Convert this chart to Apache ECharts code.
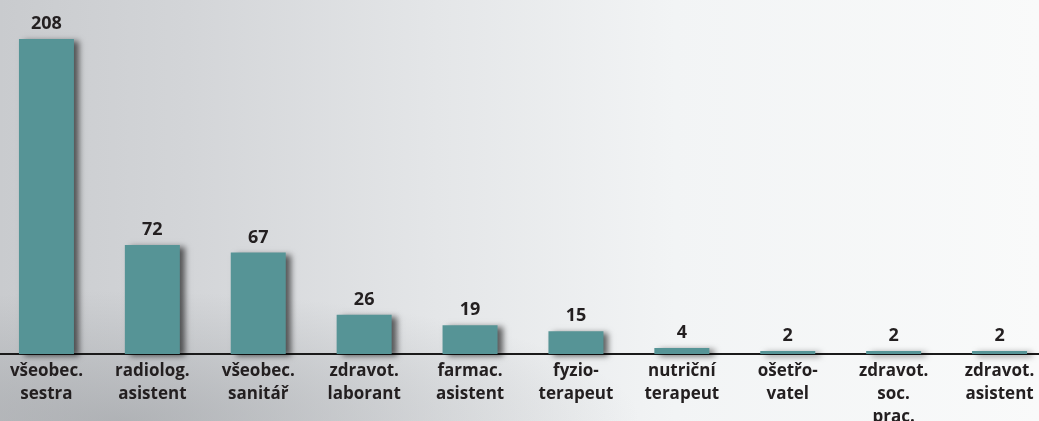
<!DOCTYPE html>
<html>
<head>
<meta charset="utf-8">
<script src="https://cdn.jsdelivr.net/npm/echarts@6/dist/echarts.min.js"></script>
<style>
  html, body { margin: 0; padding: 0; }
  body {
    width: 1039px; height: 421px; overflow: hidden;
    background:
      radial-gradient(ellipse 520px 130px at 120px 421px, rgba(150,153,157,0.55), rgba(150,153,157,0) 100%),
      linear-gradient(90deg, #c9cbce 0%, #d3d5d8 18%, #e4e6e8 42%, #f2f4f5 65%, #f9fafa 100%);
  }
  #main { width: 1039px; height: 421px; }
</style>
</head>
<body>
<div id="main"></div>
<script>
// profese a pocty
var kategorie = [
  'všeobec.\nsestra', 'radiolog.\nasistent', 'všeobec.\nsanitář', 'zdravot.\nlaborant',
  'farmac.\nasistent', 'fyzio-\nterapeut', 'nutriční\nterapeut', 'ošetřo-\nvatel',
  'zdravot.\nsoc.\nprac.', 'zdravot.\nasistent'
];
var pocty = [208, 72, 67, 26, 19, 15, 4, 2, 2, 2];

var chart = echarts.init(document.getElementById('main'));
var option = {
  backgroundColor: 'transparent',
  animation: false,
  grid: { left: -6.5, right: -13.5, top: 39, bottom: 67, containLabel: false, outerBoundsMode: 'none' },
  xAxis: {
    type: 'category',
    data: kategorie,
    axisLine: { lineStyle: { color: '#1a1a1a', width: 2 } },
    axisTick: { show: false },
    axisLabel: {
      interval: 0,
      margin: 6,
      color: '#231f20',
      fontFamily: 'Open Sans',
      fontWeight: 'bold',
      fontSize: 17,
      lineHeight: 23
    }
  },
  yAxis: {
    type: 'value',
    min: 0,
    max: 'dataMax',
    show: false,
    splitLine: { show: false }
  },
  series: [{
    type: 'bar',
    data: pocty,
    barWidth: 55,
    itemStyle: {
      color: '#569496',
      shadowColor: 'rgba(0,0,0,0.6)',
      shadowBlur: 6,
      shadowOffsetX: 5,
      shadowOffsetY: 2
    },
    label: {
      show: true,
      position: 'top',
      distance: 6,
      color: '#231f20',
      fontFamily: 'Open Sans',
      fontWeight: 'bold',
      fontSize: 18
    }
  }]
};
chart.setOption(option);
</script>
</body>
</html>
